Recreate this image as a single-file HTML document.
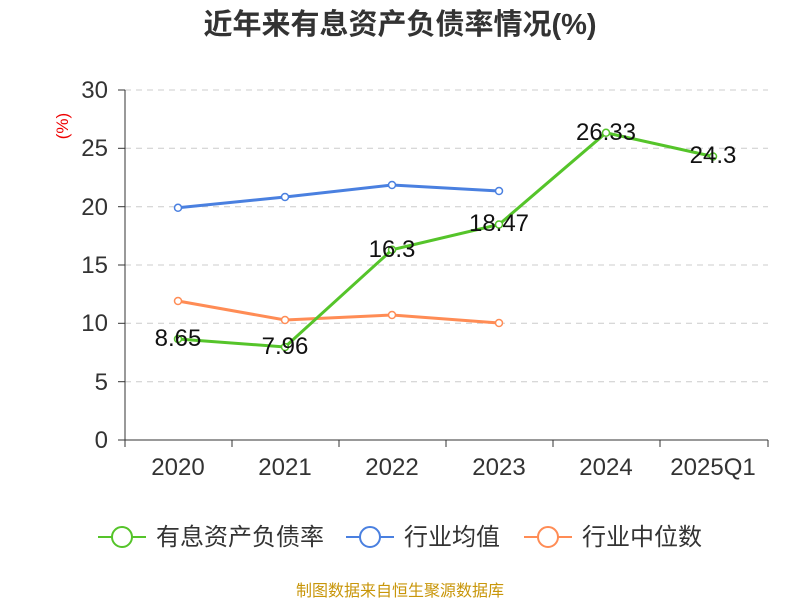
<!DOCTYPE html>
<html><head><meta charset="utf-8"><style>
body{margin:0;background:#fff;}
svg text{font-family:"Liberation Sans","Noto Sans CJK SC",sans-serif;}
</style></head><body>
<svg width="800" height="600" xmlns="http://www.w3.org/2000/svg">
<text x="400" y="34" text-anchor="middle" font-size="29" font-weight="bold" fill="#333">近年来有息资产负债率情况(%)</text>
<text x="68" y="126" font-size="17" fill="#e00" transform="rotate(-90 68 126)" text-anchor="middle">(%)</text>
<g stroke="#ccc" stroke-dasharray="6,5" stroke-width="1">
<line x1="125" x2="768" y1="90" y2="90"/><line x1="125" x2="768" y1="148.3" y2="148.3"/>
<line x1="125" x2="768" y1="206.7" y2="206.7"/><line x1="125" x2="768" y1="265" y2="265"/>
<line x1="125" x2="768" y1="323.3" y2="323.3"/><line x1="125" x2="768" y1="381.7" y2="381.7"/>
</g>
<g stroke="#333" stroke-width="1">
<line x1="125" x2="125" y1="90" y2="440"/>
<line x1="125" x2="768" y1="440" y2="440"/>
<line x1="118" x2="125" y1="90" y2="90"/><line x1="118" x2="125" y1="148.3" y2="148.3"/>
<line x1="118" x2="125" y1="206.7" y2="206.7"/><line x1="118" x2="125" y1="265" y2="265"/>
<line x1="118" x2="125" y1="323.3" y2="323.3"/><line x1="118" x2="125" y1="381.7" y2="381.7"/>
<line x1="118" x2="125" y1="440" y2="440"/>
<line x1="125" x2="125" y1="440" y2="447"/><line x1="232" x2="232" y1="440" y2="447"/>
<line x1="339" x2="339" y1="440" y2="447"/><line x1="446" x2="446" y1="440" y2="447"/>
<line x1="553" x2="553" y1="440" y2="447"/><line x1="660" x2="660" y1="440" y2="447"/>
<line x1="768" x2="768" y1="440" y2="447"/>
</g>
<g font-size="24" fill="#333" text-anchor="end">
<text x="108" y="98">30</text><text x="108" y="156">25</text><text x="108" y="215">20</text>
<text x="108" y="273">15</text><text x="108" y="331">10</text><text x="108" y="390">5</text><text x="108" y="448">0</text>
</g>
<g font-size="24" fill="#333" text-anchor="middle">
<text x="178" y="475">2020</text><text x="285" y="475">2021</text><text x="392" y="475">2022</text>
<text x="499" y="475">2023</text><text x="606" y="475">2024</text><text x="713" y="475">2025Q1</text>
</g>
<g fill="#fff" stroke-width="1.5">
<polyline points="178,207.8 285,197 392,185 499,191" fill="none" stroke="#4a80e0" stroke-width="3"/>
<g stroke="#4a80e0"><circle cx="178" cy="207.8" r="3.5"/><circle cx="285" cy="197" r="3.5"/><circle cx="392" cy="185" r="3.5"/><circle cx="499" cy="191" r="3.5"/></g>
<polyline points="178,301 285,320 392,315 499,323" fill="none" stroke="#ff8c55" stroke-width="3"/>
<g stroke="#ff8c55"><circle cx="178" cy="301" r="3.5"/><circle cx="285" cy="320" r="3.5"/><circle cx="392" cy="315" r="3.5"/><circle cx="499" cy="323" r="3.5"/></g>
<polyline points="178,339 285,347 392,249.8 499,224.5 606,132.8 713,156.5" fill="none" stroke="#55c42a" stroke-width="3"/>
<g stroke="#55c42a"><circle cx="178" cy="339" r="3.5"/><circle cx="285" cy="347" r="3.5"/><circle cx="392" cy="249.8" r="3.5"/><circle cx="499" cy="224.5" r="3.5"/><circle cx="606" cy="132.8" r="3.5"/><circle cx="713" cy="156.5" r="3.5"/></g>
</g>
<g font-size="24" fill="#111" text-anchor="middle">
<text x="178" y="346">8.65</text><text x="285" y="354">7.96</text><text x="392" y="257">16.3</text>
<text x="499" y="231">18.47</text><text x="606" y="140">26.33</text><text x="713" y="163">24.3</text>
</g>
<g stroke-width="2" fill="#fff">
<line x1="98" x2="146" y1="537" y2="537" stroke="#55c42a"/><circle cx="122" cy="537" r="10" stroke="#55c42a"/>
<line x1="346" x2="394" y1="537" y2="537" stroke="#4a80e0"/><circle cx="370" cy="537" r="10" stroke="#4a80e0"/>
<line x1="524" x2="572" y1="537" y2="537" stroke="#ff8c55"/><circle cx="548" cy="537" r="10" stroke="#ff8c55"/>
</g>
<g font-size="24" fill="#333">
<text x="156" y="545">有息资产负债率</text><text x="404" y="545">行业均值</text><text x="582" y="545">行业中位数</text>
</g>
<text x="400" y="596" text-anchor="middle" font-size="16" fill="#c8960a">制图数据来自恒生聚源数据库</text>
</svg>
</body></html>
